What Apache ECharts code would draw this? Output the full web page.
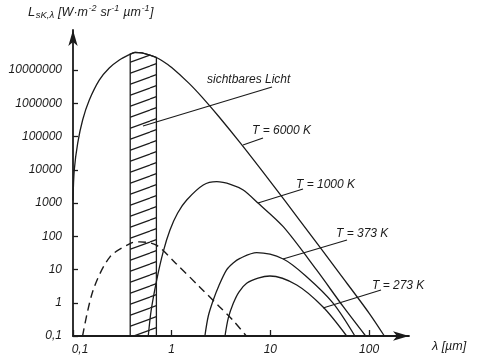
<!DOCTYPE html>
<html><head><meta charset="utf-8">
<script src="https://cdn.jsdelivr.net/npm/echarts@6/dist/echarts.min.js"></script>
<style>html,body{margin:0;padding:0;background:#fff}#c{width:480px;height:360px}</style>
</head><body><div id="c"></div>
<script>
// ---- data ----
const xTicks = [0.1, 1, 10, 100];
const yTicks = [0.1, 1, 10, 100, 1000, 10000, 100000, 1000000, 10000000];

const lam6000 = [0.1, 0.103, 0.1116, 0.1254, 0.1463, 0.1846, 0.233, 0.295, 0.363, 0.425, 0.5, 0.6, 0.7, 0.8, 1.0, 1.5, 2, 3, 5, 10, 20, 50, 100, 143];
const val6000 = [1200, 9800, 63000, 320000, 1260000, 5000000, 11500000, 20000000, 28000000, 34000000, 33000000, 28000000, 23800000, 19100000, 11900000, 3970000, 1610000, 400000, 61900, 4395, 292, 7.75, 0.49, 0.1];

const lam1000 = [0.579, 0.62, 0.705, 0.82, 0.961, 1.15, 1.42, 2.09, 2.86, 4.0, 5.31, 7.54, 13.5, 29.4, 54.8, 92.4];
const val1000 = [0.1, 0.6, 4.83, 34, 154, 500, 1230, 3470, 4370, 3600, 2460, 980, 194, 9.7, 0.76, 0.1];

const lam373 = [2.17, 2.35, 2.64, 3.0, 3.6, 4.2, 4.92, 7.26, 13.5, 23.3, 43.4, 71.9];
const val373 = [0.1, 0.4, 1.21, 3.2, 9.7, 15.7, 21.7, 32, 20.7, 6.07, 0.96, 0.1];

const lam273 = [3.47, 3.75, 4.21, 4.8, 5.75, 7.5, 9.91, 18.5, 34.4, 59.3];
const val273 = [0.1, 0.35, 0.96, 2.1, 3.85, 5.5, 6.38, 3.42, 0.73, 0.1];

const lamDash = [0.125, 0.16, 0.237, 0.392, 0.475, 0.7, 1.11, 1.92, 3.05, 4.16, 5.7];
const valDash = [0.1, 2.4, 24, 63, 68, 54, 15, 3.0, 0.76, 0.30, 0.1];

const bandLam = [0.38, 0.425, 0.5, 0.6, 0.7];
const bandTop = [30000000, 34000000, 33000000, 28000000, 23800000];

// ---- styling / layout ----
const INK = '#1b1b1b';
const FONT = 'Liberation Sans';
function pairs(a, b) { return a.map((v, i) => [v, b[i]]); }

const pc = document.createElement('canvas'); pc.width = 30; pc.height = 11;
const pg = pc.getContext('2d'); pg.strokeStyle = INK; pg.lineWidth = 1.2;
for (const o of [-11, 0, 11]) { pg.beginPath(); pg.moveTo(0, 11 + o); pg.lineTo(30, o); pg.stroke(); }

const mc = document.createElement('canvas').getContext('2d');
function tw(t, s) { mc.font = 'italic ' + s + 'px "' + FONT + '"'; return mc.measureText(t).width; }

const graphics = [];
function txt(t, x, y, size) {
  graphics.push({ type: 'text', left: x, top: y - size / 2 - 1, silent: true,
    style: { text: t, fill: INK, font: 'italic ' + size + 'px "' + FONT + '"' } });
}
function seg(x1, y1, x2, y2) {
  graphics.push({ type: 'line', silent: true, shape: { x1, y1, x2, y2 }, style: { stroke: INK, lineWidth: 1.2 } });
}
// y-axis title
const nameParts = [['L', 13, 0], ['sK,λ', 9.5, 3], [' [W·m', 12.5, 0], ['-2', 9, -4], [' sr', 12.5, 0], ['-1', 9, -4], [' µm', 12.5, 0], ['-1', 9, -4], [']', 12.5, 0]];
let nx = 28;
for (const [t, s, dy] of nameParts) { txt(t, nx, 13 + dy, s); nx += tw(t, s) + 0.5; }
txt('λ [µm]', 432, 347, 12.5);
// annotations
txt('sichtbares Licht', 207, 81, 12); seg(143, 126, 272, 87);
txt('T = 6000 K', 252, 132, 12); seg(243, 145, 263, 138);
txt('T = 1000 K', 296, 186, 12); seg(258, 203, 303, 189);
txt('T = 373 K', 336, 235, 12); seg(283, 259, 347, 240);
txt('T = 273 K', 372, 287, 12); seg(323, 308, 381, 290);

const lineBase = { type: 'line', showSymbol: false, smooth: 0.3, silent: true, z: 3,
  lineStyle: { color: INK, width: 1.3 } };

const labelStyle = { fontFamily: FONT, fontStyle: 'italic', fontSize: 12, color: INK };

const option = {
  animation: false,
  backgroundColor: '#fff',
  grid: { left: 73, right: 71, top: 30, bottom: 24 },
  xAxis: {
    type: 'log', logBase: 10, min: 0.1, max: 254,
    axisLine: { lineStyle: { color: INK, width: 1.8 }, symbol: ['none', 'arrow'], symbolSize: [7, 16] },
    axisTick: { inside: true, length: 6, lineStyle: { color: INK, width: 1.3 }, customValues: xTicks },
    axisLabel: Object.assign({ margin: 8, customValues: xTicks,
      formatter: v => v < 0.5 ? '{a|0,1}' : String(Math.round(v)),
      rich: { a: { fontFamily: FONT, fontStyle: 'italic', fontSize: 12, color: INK, padding: [0, 0, 0, 14] } } }, labelStyle),
    splitLine: { show: false }, minorTick: { show: false }
  },
  yAxis: {
    type: 'log', logBase: 10, min: 0.1, max: 1.6e8,
    axisLine: { lineStyle: { color: INK, width: 1.8 }, symbol: ['none', 'arrow'], symbolSize: [7, 16] },
    axisTick: { inside: true, length: 5, lineStyle: { color: INK, width: 1.3 }, customValues: yTicks },
    axisLabel: Object.assign({ margin: 11, customValues: yTicks,
      formatter: v => v < 0.5 ? '0,1' : String(Math.round(v)) }, labelStyle),
    splitLine: { show: false }, minorTick: { show: false }
  },
  series: [
    { type: 'custom', silent: true, z: 1, clip: false,
      data: [[bandLam[0], bandTop[0]]],
      renderItem: function (params, api) {
        const top = bandLam.map((l, i) => api.coord([l, bandTop[i]]));
        const b0 = api.coord([bandLam[0], 0.1]);
        const b1 = api.coord([bandLam[bandLam.length - 1], 0.1]);
        return { type: 'polygon', shape: { points: [b0].concat(top, [b1]) },
          style: { fill: { image: pc, repeat: 'repeat' }, stroke: INK, lineWidth: 1.3 } };
      } },
    Object.assign({}, lineBase, { name: 'T=6000K', data: pairs(lam6000, val6000) }),
    Object.assign({}, lineBase, { name: 'T=1000K', data: pairs(lam1000, val1000) }),
    Object.assign({}, lineBase, { name: 'T=373K', data: pairs(lam373, val373) }),
    Object.assign({}, lineBase, { name: 'T=273K', data: pairs(lam273, val273) }),
    Object.assign({}, lineBase, { name: 'dashed', data: pairs(lamDash, valDash),
      lineStyle: { color: INK, width: 1.4, type: [8, 5] } })
  ],
  graphic: graphics
};
const chart = echarts.init(document.getElementById('c'));
chart.setOption(option);
</script></body></html>
